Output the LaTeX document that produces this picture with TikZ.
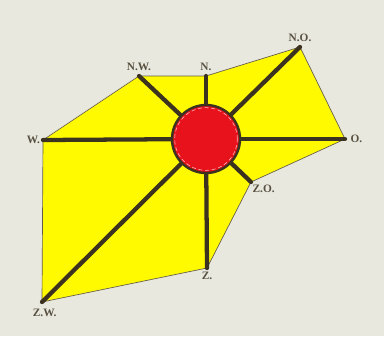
\documentclass[tikz,border=0pt]{standalone}
\usepackage{fontspec}
\setmainfont{Liberation Serif}
\usepackage{tikz}
\usetikzlibrary{positioning}
\definecolor{paper}{HTML}{E9E8DF}
\definecolor{field}{HTML}{FFFA00}
\definecolor{spot}{HTML}{E8121C}
\definecolor{ink}{HTML}{3B321F}

\begin{document}
\begin{tikzpicture}[x=0.75pt,y=-0.75pt,
  area/.style={draw=ink!80,fill=field,line width=0.5pt,line join=round},
  spoke/.style={draw=ink,line width=3.2pt,line cap=round},
  hub/.style={circle,draw=ink,line width=1.8pt,fill=spot,minimum size=51pt,inner sep=0pt},
  lab/.style={font=\fontsize{8.5}{9}\selectfont\bfseries,text=ink!85,inner sep=1pt}]
  \fill[paper] (0,0) rectangle (384,336);
  \useasboundingbox (0,0) rectangle (384,336);
  % corner points of the field
  \coordinate (no) at (300,47);
  \coordinate (o) at (345,139);
  \coordinate (zo) at (251,182);
  \coordinate (z) at (207,268);
  \coordinate (zw) at (42,302);
  \coordinate (w) at (43,140);
  \coordinate (nw) at (139,76);
  \coordinate (n) at (206,76);
  \draw[area] (no) -- (o) -- (zo) -- (z) -- (zw) -- (w) -- (nw) -- (n) -- cycle;
  \node[hub] (c) at (206,139) {};
  \foreach \p in {no,o,zo,z,zw,w,nw,n}
    \draw[spoke] (c) -- (\p);
  \draw[white!75!spot,densely dashed,line width=0.4pt] (c.center) circle (23.5pt);
  % labels
  \node[lab,above=3pt of no] (lno) {N.O.};
  \node[lab,above=3pt of n] (ln) {N.};
  \node[lab,above=3pt of nw] (lnw) {N.W.};
  \node[lab,left=1pt of w] (lw) {W.};
  \node[lab,right=3pt of o] (lo) {O.};
  \node[lab,below right=1pt and 0pt of zo] (lzo) {Z.O.};
  \node[lab,below=2pt of z] (lz) {Z.};
  \node[lab,below left=4pt and -12pt of zw] (lzw) {Z.W.};
\end{tikzpicture}
\end{document}
